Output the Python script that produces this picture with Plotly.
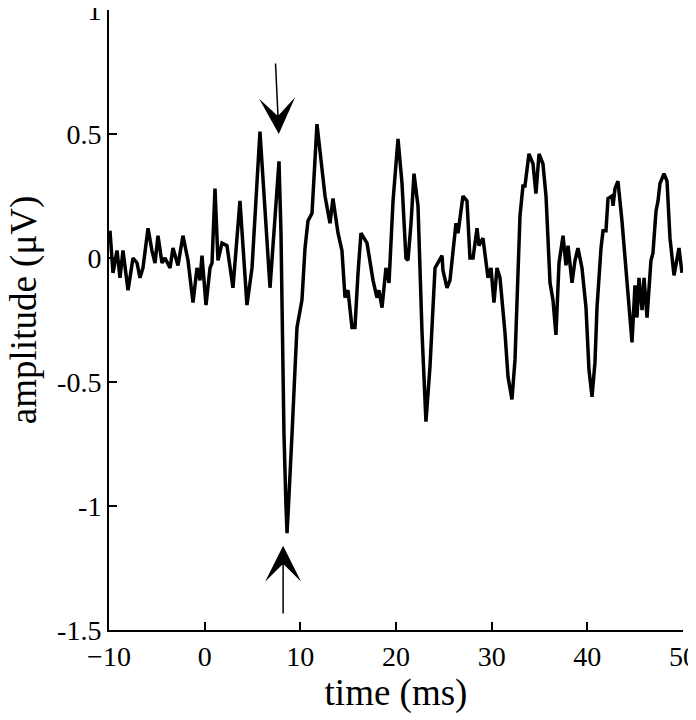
import plotly.graph_objects as go

# time axis (ms) and evoked response amplitude (uV)
time_ms = [-9.90, -9.58, -9.16, -8.85, -8.54, -8.01, -7.49, -7.07, -6.76, -6.45,
           -5.92, -5.51, -5.19, -4.88, -4.46, -4.15, -3.62, -3.31, -2.79, -2.27,
           -1.74, -1.22, -0.80, -0.49, -0.28, 0.14, 0.56, 0.77, 1.08, 1.39,
           1.81, 2.33, 2.96, 3.69, 4.42, 4.95, 5.78, 6.83, 7.77, 7.98,
           8.08, 8.19, 8.29, 8.50, 8.61, 8.76, 8.92, 9.13, 9.44, 9.65,
           10.17, 10.49, 10.80, 11.22, 11.74, 12.06, 12.58, 13.10, 13.41, 13.94,
           14.35, 14.67, 14.98, 15.40, 15.71, 16.03, 16.34, 16.97, 17.60, 18.01,
           18.22, 18.54, 18.95, 19.27, 19.69, 20.21, 20.63, 21.04, 21.25, 21.57,
           21.88, 22.30, 22.72, 23.13, 23.55, 24.08, 24.39, 24.81, 24.91, 25.33,
           25.64, 25.96, 26.27, 26.48, 27.00, 27.42, 27.73, 28.05, 28.47, 28.67,
           29.09, 29.62, 29.93, 30.24, 30.56, 30.87, 31.39, 31.71, 32.12, 32.44,
           32.96, 33.27, 33.48, 33.90, 34.32, 34.63, 34.95, 35.36, 35.68, 36.10,
           36.41, 36.72, 37.04, 37.46, 37.77, 37.98, 38.40, 38.71, 39.02, 39.44,
           39.86, 40.17, 40.49, 40.80, 41.01, 41.43, 41.64, 41.95, 42.16, 42.58,
           42.69, 42.89, 43.20, 43.62, 43.94, 44.25, 44.67, 44.98, 45.19, 45.40,
           45.72, 45.93, 46.24, 46.65, 46.86, 47.18, 47.39, 47.59, 48.01, 48.33,
           48.64, 49.06, 49.37, 49.58, 49.89]

amplitude_uv = [0.11, -0.06, 0.03, -0.08, 0.03, -0.13, 0.00, -0.02, -0.08, -0.04,
                0.12, 0.03, -0.02, 0.09, -0.02, 0.00, -0.04, 0.04, -0.03, 0.09,
                -0.01, -0.18, -0.04, -0.09, 0.01, -0.19, -0.04, -0.02, 0.28, -0.01,
                0.06, 0.05, -0.12, 0.23, -0.19, -0.04, 0.51, -0.12, 0.39, 0.10,
                -0.17, -0.50, -0.71, -1.00, -1.11, -1.00, -0.85, -0.71, -0.45, -0.28,
                -0.17, 0.04, 0.15, 0.18, 0.54, 0.44, 0.25, 0.14, 0.24, 0.10,
                0.03, -0.16, -0.13, -0.28, -0.28, -0.06, 0.10, 0.06, -0.09, -0.16,
                -0.13, -0.20, -0.04, -0.10, 0.23, 0.48, 0.30, 0.00, -0.01, 0.14,
                0.34, 0.21, -0.30, -0.66, -0.44, -0.04, -0.02, 0.01, -0.05, -0.12,
                -0.09, 0.04, 0.14, 0.10, 0.25, 0.23, 0.00, 0.00, 0.12, 0.05,
                0.08, -0.08, -0.04, -0.18, -0.04, -0.08, -0.30, -0.48, -0.57, -0.41,
                0.17, 0.29, 0.29, 0.42, 0.38, 0.26, 0.42, 0.38, 0.25, -0.10,
                -0.17, -0.31, -0.02, 0.09, -0.03, 0.05, -0.10, -0.01, 0.04, -0.04,
                -0.20, -0.45, -0.56, -0.42, -0.20, 0.04, 0.11, 0.11, 0.24, 0.25,
                0.21, 0.28, 0.31, 0.15, 0.00, -0.17, -0.34, -0.11, -0.24, -0.08,
                -0.21, -0.08, -0.24, -0.01, 0.02, 0.19, 0.23, 0.30, 0.34, 0.31,
                0.08, -0.07, -0.01, 0.04, -0.06]

x_ticks = [-10, 0, 10, 20, 30, 40, 50]
y_ticks = [-1.5, -1, -0.5, 0, 0.5, 1]
y_tick_text = ['-1.5', '-1', '-0.5', '0', '0.5', '1']

font_family = 'Liberation Serif, Times New Roman, serif'

fig = go.Figure()
fig.add_trace(go.Scatter(x=time_ms, y=amplitude_uv, mode='lines',
                         line=dict(color='black', width=3.5),
                         showlegend=False))

# arrows marking the response
fig.add_annotation(x=7.75, y=0.5, ax=7.4, ay=0.79, xref='x', yref='y', axref='x', ayref='y',
                   showarrow=True, arrowhead=3, arrowsize=4, arrowwidth=1.5,
                   arrowcolor='black', text='')
fig.add_annotation(x=8.2, y=-1.16, ax=8.2, ay=-1.44, xref='x', yref='y', axref='x', ayref='y',
                   showarrow=True, arrowhead=3, arrowsize=4, arrowwidth=1.5,
                   arrowcolor='black', text='')

fig.add_annotation(text='amplitude (μV)', textangle=-90, x=-0.148, y=-0.21,
                   xref='paper', yref='y', xanchor='center', yanchor='middle',
                   showarrow=False, font=dict(size=37, color='black', family=font_family))

# the page body adds an 8px margin, so the figure is sized to fill the rest
fig.update_layout(width=688, height=712, plot_bgcolor='white', paper_bgcolor='white',
                  margin=dict(l=101, r=13, t=2, b=90, autoexpand=False),
                  font=dict(family=font_family, color='black', size=28))

fig.update_xaxes(range=[-10, 50], tickvals=x_ticks, ticks='inside', ticklen=8, tickwidth=1.5,
                 tickcolor='black', showline=True, linecolor='black', linewidth=2,
                 showgrid=False, zeroline=False, ticklabeloverflow='allow', automargin=False,
                 title=dict(text='time (ms)', font=dict(size=37), standoff=2))
fig.update_yaxes(range=[-1.5, 1], tickvals=y_ticks, ticktext=y_tick_text, ticks='inside',
                 ticklen=8, tickwidth=1.5, tickcolor='black', showline=True,
                 linecolor='black', linewidth=2, showgrid=False, zeroline=False,
                 ticklabeloverflow='allow', automargin=False)

fig.write_html('out.html')
